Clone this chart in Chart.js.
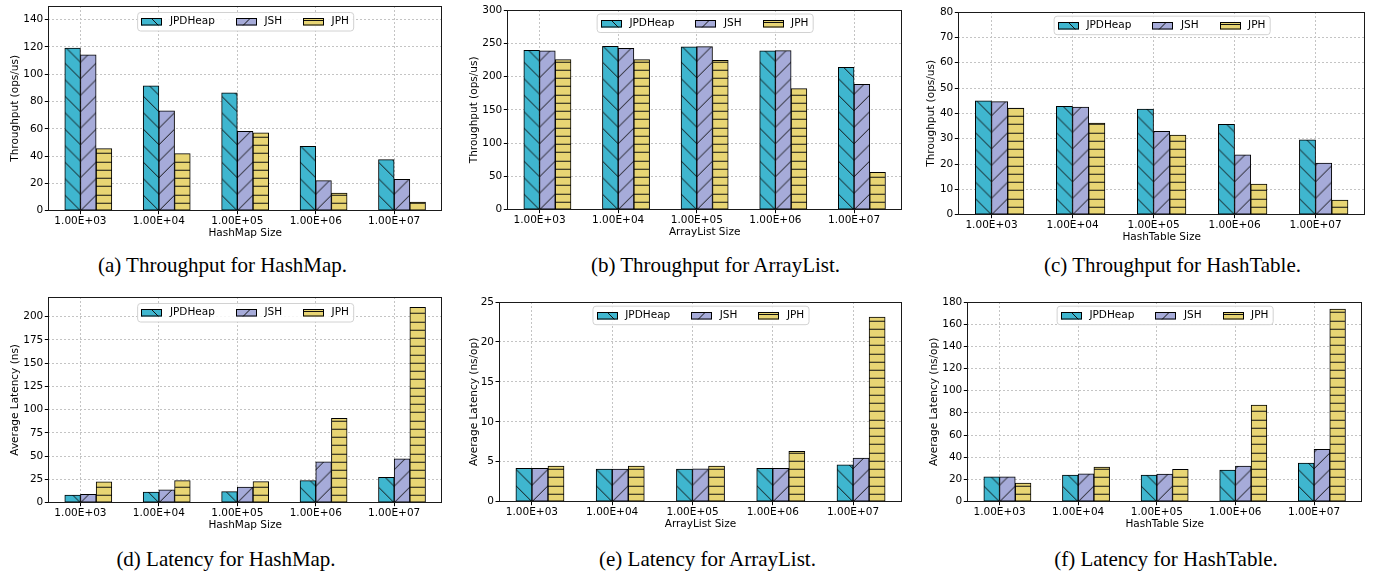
<!DOCTYPE html>
<html><head><meta charset="utf-8">
<script src="https://cdn.jsdelivr.net/npm/chart.js@4.4.1/dist/chart.umd.min.js"></script>
<style>
html,body{margin:0;padding:0;background:#fff;width:1379px;height:576px;overflow:hidden;position:relative}
.panel{position:absolute}
.cap{position:absolute;font-family:"Liberation Serif","Times New Roman",serif;font-size:21px;color:#000;white-space:nowrap;transform:translate(-50%,-50%)}
</style></head><body>
<script>
// ---------------- data ----------------
const categories = ['1.00E+03','1.00E+04','1.00E+05','1.00E+06','1.00E+07'];
const seriesNames = ['JPDHeap','JSH','JPH'];

const tpHashMapJPDHeap = [119.2, 91.5, 86.4, 47.2, 37.4];
const tpHashMapJSH     = [114.3, 73.2, 58.2, 22.0, 23.0];
const tpHashMapJPH     = [45.5, 41.8, 57.0, 13.0, 6.4];

const tpArrayListJPDHeap = [239.5, 245.5, 244.5, 238.5, 214.0];
const tpArrayListJSH     = [238.5, 242.5, 245.0, 239.0, 188.5];
const tpArrayListJPH     = [225.5, 225.5, 224.5, 182.0, 56.0];

const tpHashTableJPDHeap = [44.9, 42.8, 41.7, 35.7, 29.5];
const tpHashTableJSH     = [44.6, 42.5, 32.9, 23.6, 20.4];
const tpHashTableJPH     = [42.1, 36.2, 31.4, 12.1, 5.8];

const latHashMapJPDHeap = [8.3, 11.5, 11.9, 23.7, 27.3];
const latHashMapJSH     = [9.0, 13.7, 16.9, 43.9, 47.1];
const latHashMapJPH     = [22.3, 23.7, 22.7, 90.6, 210.0];

const latArrayListJPDHeap = [4.17, 4.09, 4.09, 4.17, 4.63];
const latArrayListJSH     = [4.17, 4.09, 4.13, 4.17, 5.47];
const latArrayListJPH     = [4.47, 4.47, 4.47, 6.3, 23.1];

const latHashTableJPDHeap = [22.5, 24.0, 24.0, 28.5, 34.9];
const latHashTableJSH     = [22.5, 25.2, 24.9, 32.2, 47.2];
const latHashTableJPH     = [16.8, 31.2, 29.1, 87.1, 173.7];

const yTicksA = [0, 20, 40, 60, 80, 100, 120, 140];
const yTicksB = [0, 50, 100, 150, 200, 250, 300];
const yTicksC = [0, 10, 20, 30, 40, 50, 60, 70, 80];
const yTicksD = [0, 25, 50, 75, 100, 125, 150, 175, 200];
const yTicksE = [0, 5, 10, 15, 20, 25];
const yTicksF = [0, 20, 40, 60, 80, 100, 120, 140, 160, 180];

// ---------------- styles / layout ----------------
const seriesStyle = [
  {color: '#3fb6cf', hatch: 'b'},
  {color: '#a6abd9', hatch: 'f'},
  {color: '#e8d574', hatch: 'h'}
];
const groupOffsets = [-0.1, 0.1, 0.3];
const FONT = '"DejaVu Sans", sans-serif';
const FS = 10.5;

const panels = [
  {series:[tpHashMapJPDHeap,tpHashMapJSH,tpHashMapJPH], yTicks:yTicksA, yMax:150,
   ylabel:'Throughput (ops/us)', xlabel:'HashMap Size', plot:{l:48,r:442,t:5.5,b:210}, ytOff:33, legTop:6,
   cap:'(a) Throughput for HashMap.', capX:222.5, capY:265},
  {series:[tpArrayListJPDHeap,tpArrayListJSH,tpArrayListJPH], yTicks:yTicksB, yMax:300,
   ylabel:'Throughput (ops/us)', xlabel:'ArrayList Size', plot:{l:507.5,r:902,t:10,b:210}, ytOff:33, legTop:3.5,
   cap:'(b) Throughput for ArrayList.', capX:715.5, capY:265},
  {series:[tpHashTableJPDHeap,tpHashTableJSH,tpHashTableJPH], yTicks:yTicksC, yMax:80,
   ylabel:'Throughput (ops/us)', xlabel:'HashTable Size', plot:{l:958.3,r:1365,t:12.3,b:215}, ytOff:27, legTop:3.7,
   cap:'(c) Throughput for HashTable.', capX:1172.5, capY:265},
  {series:[latHashMapJPDHeap,latHashMapJSH,latHashMapJPH], yTicks:yTicksD, yMax:221,
   ylabel:'Average Latency (ns)', xlabel:'HashMap Size', plot:{l:48,r:442,t:296.7,b:502}, ytOff:33, legTop:6,
   cap:'(d) Latency for HashMap.', capX:226, capY:558.5},
  {series:[latArrayListJPDHeap,latArrayListJSH,latArrayListJPH], yTicks:yTicksE, yMax:25,
   ylabel:'Average Latency (ns/op)', xlabel:'ArrayList Size', plot:{l:499.3,r:902,t:302.3,b:502}, ytOff:24.7, legTop:3.7,
   cap:'(e) Latency for ArrayList.', capX:707.5, capY:558.5},
  {series:[latHashTableJPDHeap,latHashTableJSH,latHashTableJPH], yTicks:yTicksF, yMax:180,
   ylabel:'Average Latency (ns/op)', xlabel:'HashTable Size', plot:{l:967.7,r:1362,t:302.3,b:502}, ytOff:33, legTop:3.7,
   cap:'(f) Latency for HashTable.', capX:1166, capY:558.5}
];

// ---------------- hatch patterns ----------------
const tileCache = {};
function getTile(kind, color) {
  const key = kind + color;
  if (tileCache[key]) return tileCache[key];
  const S = 33;
  const c = document.createElement('canvas'); c.width = S; c.height = S;
  const g = c.getContext('2d');
  g.fillStyle = color; g.fillRect(0, 0, S, S);
  g.strokeStyle = '#111'; g.lineWidth = 1;
  g.beginPath();
  if (kind === 'h') {
    for (let k = 0; k < 4; k++) { const y = Math.round(k * 8.25) + 0.5; g.moveTo(0, y); g.lineTo(S, y); }
  } else if (kind === 'b') {
    for (let cc = -49.5; cc <= 49.5; cc += 16.5) { g.moveTo(-3, -3 + cc); g.lineTo(S + 3, S + 3 + cc); }
  } else {
    for (let cc = -16.5; cc <= 82.5; cc += 16.5) { g.moveTo(-3, cc + 3); g.lineTo(S + 3, cc - S - 3); }
  }
  g.stroke();
  tileCache[key] = c;
  return c;
}
function makePattern(ctx, kind, color, ox, oy) {
  const p = ctx.createPattern(getTile(kind, color), 'repeat');
  if (p.setTransform) p.setTransform(new DOMMatrix([1, 0, 0, 1, ox, oy]));
  return p;
}

// ---------------- plugins ----------------
const framePlugin = {
  id: 'frame',
  afterDatasetsDraw(chart) {
    const {ctx, chartArea: a} = chart;
    ctx.save();
    ctx.strokeStyle = '#1a1a1a'; ctx.lineWidth = 1;
    ctx.strokeRect(Math.round(a.left) + 0.5, Math.round(a.top) + 0.5, Math.round(a.right - a.left) - 1, Math.round(a.bottom - a.top) - 1);
    ctx.restore();
  }
};
const legendPlugin = {
  id: 'boxLegend',
  afterDraw(chart, args, opts) {
    const ctx = chart.ctx, area = chart.chartArea;
    ctx.save();
    ctx.font = FS + 'px ' + FONT;
    const pad = 4.3, hw = 21, hh = 7.5, gap = 7.5, colGap = 21, bh = 18.5;
    const items = chart.data.datasets.map(ds => ({label: ds.label, w: ctx.measureText(ds.label).width, st: ds.styleRef}));
    let total = pad * 2;
    items.forEach((it, i) => { total += hw + gap + it.w + (i < items.length - 1 ? colGap : 0); });
    const bx = (area.left + area.right) / 2 - total / 2;
    const by = area.top + opts.top;
    ctx.beginPath();
    if (ctx.roundRect) ctx.roundRect(bx + 0.5, by + 0.5, total, bh, 3); else ctx.rect(bx + 0.5, by + 0.5, total, bh);
    ctx.fillStyle = 'rgba(255,255,255,0.85)'; ctx.fill();
    ctx.strokeStyle = '#d2d2d2'; ctx.lineWidth = 1; ctx.stroke();
    let x = bx + pad;
    const cy = by + bh / 2 + 0.5;
    items.forEach(it => {
      const hx = Math.round(x), hy = Math.round(cy - hh / 2);
      ctx.fillStyle = makePattern(ctx, it.st.hatch, it.st.color, hx + 4, hy - 6);
      ctx.fillRect(hx, hy, hw, hh);
      ctx.strokeStyle = '#000'; ctx.lineWidth = 1;
      ctx.strokeRect(hx + 0.5, hy + 0.5, hw - 1, hh - 1);
      ctx.fillStyle = '#000'; ctx.textBaseline = 'middle'; ctx.textAlign = 'left';
      ctx.fillText(it.label, x + hw + gap, cy);
      x += hw + gap + it.w + colGap;
    });
    ctx.restore();
  }
};

// ---------------- build ----------------
const LH = FS * 1.2;
panels.forEach((p, pi) => {
  const padTop = 14, padRight = 14;
  const yW = p.ytOff + LH / 2;
  const xH = 23 + LH / 2;
  const left = p.plot.l - yW, top = p.plot.t - padTop;
  const W = Math.round(yW + (p.plot.r - p.plot.l) + padRight);
  const H = Math.round(padTop + (p.plot.b - p.plot.t) + xH);
  const div = document.createElement('div');
  div.className = 'panel';
  div.style.left = left + 'px'; div.style.top = top + 'px';
  div.style.width = W + 'px'; div.style.height = H + 'px';
  const cv = document.createElement('canvas');
  cv.width = W; cv.height = H; cv.style.width = W + 'px'; cv.style.height = H + 'px';
  div.appendChild(cv);
  document.body.appendChild(div);

  const cap = document.createElement('div');
  cap.className = 'cap'; cap.textContent = p.cap;
  cap.style.left = p.capX + 'px'; cap.style.top = p.capY + 'px';
  document.body.appendChild(cap);

  const datasets = p.series.map((vals, si) => {
    const st = seriesStyle[si];
    return {
      label: seriesNames[si],
      styleRef: st,
      data: vals.map((v, i) => ({x: i + groupOffsets[si], y: v})),
      backgroundColor: (c) => {
        if (c.type !== 'data' || !c.chart.scales.x) return st.color;
        const xs = c.chart.scales.x, ys = c.chart.scales.y;
        return makePattern(c.chart.ctx, st.hatch, st.color, xs.getPixelForValue(c.dataIndex), ys.getPixelForValue(0));
      },
      borderColor: '#000',
      borderWidth: 1,
      borderSkipped: false,
      grouped: false,
      categoryPercentage: 1,
      barPercentage: 1
    };
  });

  new Chart(cv, {
    type: 'bar',
    data: {datasets},
    plugins: [framePlugin, legendPlugin],
    options: {
      responsive: false,
      animation: false,
      devicePixelRatio: 1,
      layout: {padding: {top: padTop, right: padRight, left: 0, bottom: 0}},
      plugins: {legend: {display: false}, tooltip: {enabled: false}, boxLegend: {top: p.legTop}},
      scales: {
        x: {
          type: 'linear', min: -0.41, max: 4.61, offset: false,
          afterBuildTicks: (s) => { s.ticks = categories.map((_, i) => ({value: i})); },
          afterFit: (s) => { s.height = xH; },
          grid: {color: '#c4c4c4', lineWidth: 1, offset: false, drawTicks: true, tickLength: 3.5, tickColor: '#000', tickWidth: 1, tickBorderDash: []},
          border: {display: false, dash: [2, 2]},
          ticks: {autoSkip: false, maxRotation: 0, minRotation: 0, padding: 0.5, color: '#000', font: {family: FONT, size: FS},
                  callback: (v) => categories[Math.round(v)] ?? ''},
          title: {display: true, text: p.xlabel, color: '#000', font: {family: FONT, size: FS}, padding: 0}
        },
        y: {
          type: 'linear', min: 0, max: p.yMax,
          afterBuildTicks: (s) => { s.ticks = p.yTicks.map(v => ({value: v})); },
          afterFit: (s) => { s.width = yW; },
          grid: {color: '#c4c4c4', lineWidth: 1, drawTicks: true, tickLength: 3.5, tickColor: '#000', tickWidth: 1, tickBorderDash: []},
          border: {display: false, dash: [2, 2]},
          ticks: {padding: 1.5, color: '#000', font: {family: FONT, size: FS}, callback: (v) => String(v)},
          title: {display: true, text: p.ylabel, color: '#000', font: {family: FONT, size: FS}, padding: 0}
        }
      }
    }
  });
});
</script>
</body></html>
